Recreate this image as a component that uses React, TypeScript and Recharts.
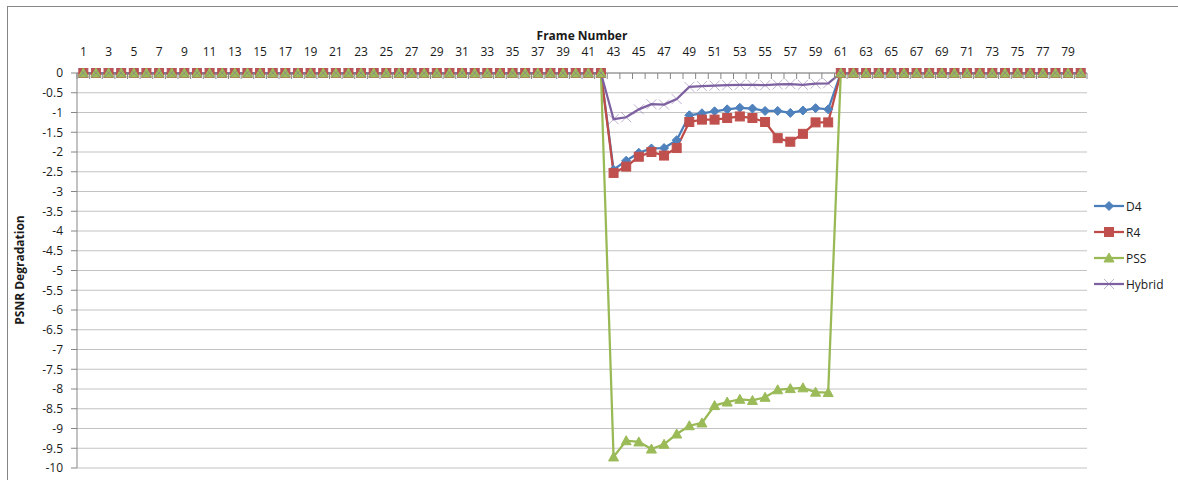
import { LineChart, Line, XAxis, YAxis, CartesianGrid, Label } from 'recharts';

// frame numbers on the top axis
const frames = Array.from({ length: 80 }, (_, i) => i + 1);
const frameLabels = frames.filter(f => f % 2 === 1);
const frameEdges = [0.5, ...frames.map(f => f + 0.5)];
const yTicks = [0, -0.5, -1, -1.5, -2, -2.5, -3, -3.5, -4, -4.5, -5, -5.5, -6, -6.5, -7, -7.5, -8, -8.5, -9, -9.5, -10];

// frames where the loss hits; every other frame reads 0
const lossFrames = [43, 44, 45, 46, 47, 48, 49, 50, 51, 52, 53, 54, 55, 56, 57, 58, 59, 60];
const baseline = 0;
const d4 = [-2.45, -2.22, -2.02, -1.91, -1.9, -1.7, -1.07, -1.02, -0.97, -0.92, -0.88, -0.9, -0.96, -0.96, -1.01, -0.95, -0.89, -0.92];
const r4 = [-2.53, -2.37, -2.12, -2.0, -2.09, -1.9, -1.24, -1.18, -1.18, -1.14, -1.1, -1.14, -1.24, -1.65, -1.74, -1.54, -1.25, -1.25];
const pss = [-9.72, -9.31, -9.34, -9.52, -9.4, -9.14, -8.93, -8.86, -8.42, -8.33, -8.26, -8.29, -8.21, -8.02, -7.99, -7.97, -8.08, -8.09];
const hybrid = [-1.17, -1.12, -0.92, -0.79, -0.8, -0.66, -0.35, -0.33, -0.32, -0.31, -0.3, -0.3, -0.31, -0.29, -0.28, -0.3, -0.27, -0.26];

const pick = (vals: number[], f: number) => {
  const i = lossFrames.indexOf(f);
  return i < 0 ? baseline : vals[i];
};

const data = frames.map(f => ({
  frame: f,
  D4: pick(d4, f),
  R4: pick(r4, f),
  PSS: pick(pss, f),
  Hybrid: pick(hybrid, f),
}));

const FONT = '"Open Sans", "Liberation Sans", sans-serif';
const AXIS = '#868686';

const BLUE = '#4A7EBB';
const RED = '#BE4B48';
const GREEN = '#98B954';
const PURPLE = '#7D60A0';

const diamond = (cx: number, cy: number, key?: any) => (
  <path key={key} d={`M${cx},${cy - 4.5}L${cx + 4.5},${cy}L${cx},${cy + 4.5}L${cx - 4.5},${cy}Z`} fill="#4F81BD" stroke="#4F81BD" />
);
const square = (cx: number, cy: number, key?: any) => (
  <rect key={key} x={cx - 4.5} y={cy - 4.5} width={9} height={9} fill="#C0504D" stroke="#C0504D" />
);
const triangle = (cx: number, cy: number, key?: any) => (
  <path key={key} d={`M${cx},${cy - 5}L${cx + 5},${cy + 4}L${cx - 5},${cy + 4}Z`} fill="#9BBB59" stroke="#9BBB59" />
);
const cross = (cx: number, cy: number, key?: any) => (
  <path key={key} d={`M${cx - 5},${cy - 5}L${cx + 5},${cy + 5}M${cx + 5},${cy - 5}L${cx - 5},${cy + 5}`} stroke="#8064A2" strokeOpacity={0.5} strokeWidth={1} fill="none" />
);

const dotOf = (shape: (cx: number, cy: number, key?: any) => any) => (p: any) =>
  shape(p.cx, p.cy, `${p.dataKey}-${p.index}`);

const legendItems = [
  { name: 'D4', color: BLUE, shape: diamond },
  { name: 'R4', color: RED, shape: square },
  { name: 'PSS', color: GREEN, shape: triangle },
  { name: 'Hybrid', color: PURPLE, shape: cross },
];

export default function App() {
  return (
    <div style={{ position: 'absolute', left: 0, top: 0, width: 1178, height: 480, overflow: 'hidden', background: '#fff', fontFamily: FONT }}>
      <div style={{ position: 'absolute', left: 7, top: 6, width: 1200, height: 500, borderTop: `1px solid ${AXIS}`, borderLeft: `1px solid ${AXIS}` }} />
      <LineChart width={1178} height={480} data={data} margin={{ top: 33, right: 91, bottom: 12, left: 7 }}>
        <CartesianGrid xAxisId="f" vertical={false} stroke="#c3c3c3" />
        <XAxis
          xAxisId="f"
          dataKey="frame"
          type="number"
          orientation="top"
          domain={[0.5, 80.5]}
          allowDataOverflow
          ticks={frameLabels}
          interval={0}
          height={40}
          tickLine={false}
          tickSize={6}
          tickMargin={11}
          axisLine={{ stroke: AXIS }}
          tick={{ fontSize: 12, fill: '#1a1a1a', fontFamily: FONT }}
        >
          <Label
            content={() => (
              <text x={582} y={40} textAnchor="middle" fontSize={12} fontWeight="bold" fill="#1a1a1a" fontFamily={FONT}>
                Frame Number
              </text>
            )}
          />
        </XAxis>
        <XAxis
          xAxisId="b"
          dataKey="frame"
          type="number"
          orientation="top"
          mirror
          domain={[0.5, 80.5]}
          allowDataOverflow
          ticks={frameEdges}
          interval={0}
          axisLine={false}
          tickSize={6}
          tickLine={{ stroke: AXIS }}
          tick={() => null}
        />
        <YAxis
          domain={[-10, 0]}
          ticks={yTicks}
          interval={0}
          width={70}
          tickSize={6}
          tickMargin={8}
          axisLine={{ stroke: AXIS }}
          tickLine={{ stroke: AXIS }}
          tick={{ fontSize: 12, fill: '#1a1a1a', fontFamily: FONT }}
        >
          <Label
            content={() => (
              <text x={24} y={270} transform="rotate(-90, 24, 270)" textAnchor="middle" fontSize={12} fontWeight="bold" fill="#1a1a1a" fontFamily={FONT}>
                PSNR Degradation
              </text>
            )}
          />
        </YAxis>
        <Line xAxisId="f" type="linear" dataKey="D4" stroke={BLUE} strokeWidth={2.25} dot={dotOf(diamond)} activeDot={false} isAnimationActive={false} />
        <Line xAxisId="f" type="linear" dataKey="R4" stroke={RED} strokeWidth={2.25} dot={dotOf(square)} activeDot={false} isAnimationActive={false} />
        <Line xAxisId="f" type="linear" dataKey="PSS" stroke={GREEN} strokeWidth={2.25} dot={dotOf(triangle)} activeDot={false} isAnimationActive={false} />
        <Line xAxisId="f" type="linear" dataKey="Hybrid" stroke={PURPLE} strokeWidth={2.25} dot={dotOf(cross)} activeDot={false} isAnimationActive={false} />
      </LineChart>
      <div style={{ position: 'absolute', left: 1093, top: 193 }}>
        {legendItems.map(it => (
          <div key={it.name} style={{ display: 'flex', alignItems: 'center', height: 26 }}>
            <svg width={32} height={14}>
              <line x1={1} y1={7} x2={31} y2={7} stroke={it.color} strokeWidth={2.25} />
              {it.shape(16, 7)}
            </svg>
            <span style={{ fontSize: 12, color: '#1a1a1a', marginLeft: 1 }}>{it.name}</span>
          </div>
        ))}
      </div>
    </div>
  );
}
